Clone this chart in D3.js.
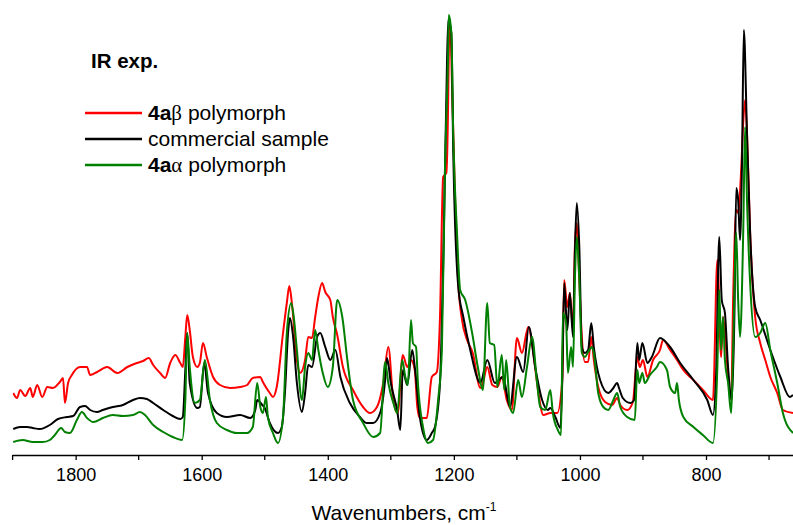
<!DOCTYPE html>
<html><head><meta charset="utf-8">
<script src="https://cdn.jsdelivr.net/npm/d3@7/dist/d3.min.js"></script>
<style>
html,body{margin:0;padding:0;background:#fff;}
svg{display:block;font-family:"Liberation Sans",Arial,sans-serif;}
</style></head>
<body>
<svg id="chart" width="793" height="525"></svg>
<script>
// ---- Data (wavenumber in cm-1, intensity in arbitrary units) ----
const seriesNames = ["4aβ polymorph", "commercial sample", "4aα polymorph"];
const seriesColors = ["#ff0000", "#000000", "#008000"];
const xTicksMajor = [1800, 1600, 1400, 1200, 1000, 800];
const xTicksMinor = [1900, 1700, 1500, 1300, 1100, 900, 700];

const wnBeta = [1899,1893,1888,1880,1872,1868,1861,1853,1845,1836,1825,1820,1817,1812,1806,1793,1782,1777,1766,1750,1734,1718,1703,1693,1684,1677,1666,1658,1650,1642,1634,1630,1626,1623,1619,1614,1607,1603,1598,1592,1582,1571,1555,1539,1528,1519,1507,1503,1492,1487,1481,1471,1465,1461,1457,1449,1444,1436,1431,1425,1420,1415,1409,1404,1396,1392,1385,1376,1360,1344,1333,1322,1312,1304,1296,1289,1281,1274,1268,1262,1258,1254,1243,1235,1227,1222,1217,1212,1209,1208,1206,1203,1198,1193,1187,1179,1170,1158,1154,1147,1139,1131,1124,1116,1108,1100,1092,1082,1074,1068,1058,1047,1036,1028,1025,1020,1016,1011,1008,1005,1001,997,992,987,982,978,971,960,949,941,936,925,916,909,905,900,893,884,873,868,857,846,836,820,805,789,782,776,773,768,765,760,757,752,749,744,741,738,735,730,722,714,706,698,687,678,662];
const absBeta = [62,57,65,59,67,58,70,58,68,67,73,77,52,72,80,88,88,80,83,88,82,88,92,94,97,90,82,77,92,100,92,88,118,140,125,98,88,92,112,98,78,70,67,68,70,77,78,73,62,58,68,122,152,169,152,95,82,95,118,117,138,158,172,163,155,138,120,88,65,48,42,48,72,108,55,42,100,88,95,85,48,37,37,78,83,138,278,282,355,405,435,372,255,172,135,115,102,67,72,88,70,68,78,55,45,117,102,128,102,72,40,42,42,75,175,148,162,125,208,232,175,118,93,93,118,95,68,53,50,57,50,45,53,98,88,95,78,95,105,115,105,95,85,75,65,55,195,98,138,105,78,55,155,245,242,288,332,355,322,222,138,112,95,78,62,45,42];

const wnCommercial = [1899,1888,1877,1868,1857,1841,1828,1814,1804,1793,1785,1777,1766,1757,1741,1725,1709,1698,1687,1677,1661,1646,1634,1630,1626,1623,1619,1607,1603,1596,1590,1576,1560,1539,1523,1515,1512,1504,1500,1492,1479,1473,1468,1463,1460,1455,1449,1441,1436,1431,1425,1417,1412,1404,1396,1388,1380,1365,1349,1338,1328,1317,1309,1306,1300,1290,1285,1281,1274,1266,1262,1254,1243,1235,1230,1222,1217,1212,1209,1204,1201,1193,1185,1174,1158,1147,1135,1122,1111,1100,1090,1081,1071,1060,1051,1047,1039,1031,1028,1025,1020,1016,1011,1008,1005,1001,997,992,987,982,978,968,955,947,941,938,932,920,914,909,906,901,893,886,873,857,841,820,798,789,784,779,775,770,765,759,755,752,749,746,743,740,735,730,722,714,698,682,667,662];
const absCommercial = [26,28,28,27,26,30,36,38,39,48,49,45,43,45,48,50,55,57,56,52,45,39,36,38,85,122,72,47,48,92,62,42,38,40,37,45,55,50,47,32,22,28,62,122,137,118,72,43,62,90,88,118,122,108,95,105,78,52,38,32,32,42,75,97,72,45,25,85,70,105,88,38,15,22,28,72,188,355,435,422,305,168,138,105,72,95,72,78,48,98,83,128,88,55,45,47,38,27,75,172,125,162,118,202,252,208,108,102,105,132,108,75,62,67,72,67,57,52,55,112,95,112,92,98,117,108,92,75,55,40,80,218,155,142,88,55,138,267,255,215,288,425,322,222,148,135,105,78,58,60];

const wnAlpha = [1899,1884,1868,1852,1841,1833,1823,1817,1809,1798,1790,1782,1772,1757,1741,1725,1709,1698,1690,1677,1661,1646,1631,1626,1623,1619,1611,1603,1595,1587,1576,1560,1544,1528,1519,1512,1507,1503,1498,1495,1487,1479,1471,1465,1458,1454,1449,1441,1436,1431,1425,1420,1415,1408,1400,1392,1385,1377,1369,1360,1344,1328,1317,1309,1304,1296,1290,1282,1277,1273,1268,1265,1260,1257,1249,1241,1233,1225,1219,1214,1209,1208,1204,1201,1195,1190,1182,1171,1162,1154,1147,1143,1136,1131,1124,1120,1117,1111,1106,1098,1092,1084,1076,1068,1063,1055,1047,1043,1035,1030,1027,1022,1019,1014,1011,1008,1005,1001,997,992,987,981,978,971,963,955,947,941,936,925,913,909,906,901,897,889,878,873,862,857,849,846,843,836,820,805,789,782,779,776,773,770,765,760,757,752,749,746,741,738,735,730,722,714,706,698,687,678,662];
const absAlpha = [13,15,13,13,15,20,27,23,22,35,43,37,33,37,40,39,40,43,40,30,23,18,15,55,122,88,52,55,95,55,32,25,22,22,28,72,48,42,58,38,22,12,38,122,152,138,105,55,88,102,95,125,105,82,68,88,155,138,95,55,32,18,22,93,72,52,42,95,78,70,135,112,108,72,28,12,15,55,105,288,405,440,422,322,222,165,155,122,88,65,152,112,110,68,100,65,95,48,42,75,58,88,118,72,48,45,65,42,25,20,142,132,82,108,88,175,218,175,102,98,103,108,102,62,48,45,55,62,48,38,35,85,72,82,72,80,88,93,85,68,62,72,55,38,28,20,12,88,165,105,138,95,72,42,105,222,155,118,222,328,255,172,118,122,132,105,72,42,22];

// ---- Layout ----
const W = 793, H = 525;
const plot = {left: 12.6, right: 793, top: 10, bottom: 455};
const svg = d3.select("#chart");

const x = d3.scaleLinear().domain([1900, 662]).range([plot.left, plot.right]);
const y = d3.scaleLinear().domain([0, 440]).range([plot.bottom, 15]);

svg.append("defs").append("clipPath").attr("id", "clip")
  .append("rect").attr("x", plot.left).attr("y", 0)
  .attr("width", plot.right - plot.left).attr("height", plot.bottom);

const line = d3.line().curve(d3.curveMonotoneX).x(d => x(d[0])).y(d => y(d[1]));

const seriesData = [
  d3.zip(wnBeta, absBeta),
  d3.zip(wnCommercial, absCommercial),
  d3.zip(wnAlpha, absAlpha)
];

const g = svg.append("g").attr("clip-path", "url(#clip)");
seriesData.forEach((data, i) => {
  g.append("path").datum(data)
    .attr("fill", "none")
    .attr("stroke", seriesColors[i])
    .attr("stroke-width", 2)
    .attr("stroke-linejoin", "round")
    .attr("d", line);
});

// ---- Axis ----
const axisG = svg.append("g").attr("transform", `translate(0,${plot.bottom})`);
axisG.call(d3.axisBottom(x).tickValues(xTicksMajor).tickSize(5).tickPadding(8).tickFormat(d3.format("d")));
axisG.selectAll(".tick text").attr("font-size", 18).attr("font-family", "Liberation Sans, Arial, sans-serif").attr("fill", "#000");
axisG.select(".domain").attr("d", `M${plot.left},0.5H${plot.right}`).attr("stroke", "#000").attr("stroke-width", 1.3);
axisG.selectAll(".tick line").attr("stroke", "#000").attr("stroke-width", 1.3);
axisG.selectAll(".minor").data(xTicksMinor).enter().append("line")
  .attr("class", "minor")
  .attr("x1", d => x(d)).attr("x2", d => x(d))
  .attr("y1", 0).attr("y2", 5).attr("stroke", "#000").attr("stroke-width", 1.3);

const title = svg.append("text").attr("x", 404).attr("y", 520)
  .attr("text-anchor", "middle").attr("font-size", 21).attr("fill", "#000");
title.append("tspan").text("Wavenumbers, cm");
title.append("tspan").attr("font-size", 12).attr("dy", -9).text("-1");

// ---- Legend ----
svg.append("text").attr("x", 91).attr("y", 68).attr("font-size", 20.5)
  .attr("font-weight", "bold").attr("fill", "#000").text("IR exp.");

const legendY = [113, 139, 165];
const legendParts = [
  [["4a", "bold", null], ["β", "normal", "Liberation Serif, DejaVu Serif, serif"], [" polymorph", "normal", null]],
  [["commercial sample", "normal", null]],
  [["4a", "bold", null], ["α", "normal", "Liberation Serif, DejaVu Serif, serif"], [" polymorph", "normal", null]]
];
seriesNames.forEach((name, i) => {
  svg.append("line").attr("x1", 85).attr("x2", 142)
    .attr("y1", legendY[i]).attr("y2", legendY[i])
    .attr("stroke", seriesColors[i]).attr("stroke-width", 2.5);
  const t = svg.append("text").attr("x", 148).attr("y", legendY[i] + 7)
    .attr("font-size", 21).attr("fill", "#000");
  legendParts[i].forEach(p => {
    const ts = t.append("tspan").attr("font-weight", p[1]).text(p[0]);
    if (p[2]) ts.attr("font-family", p[2]);
  });
});
</script>
</body></html>
